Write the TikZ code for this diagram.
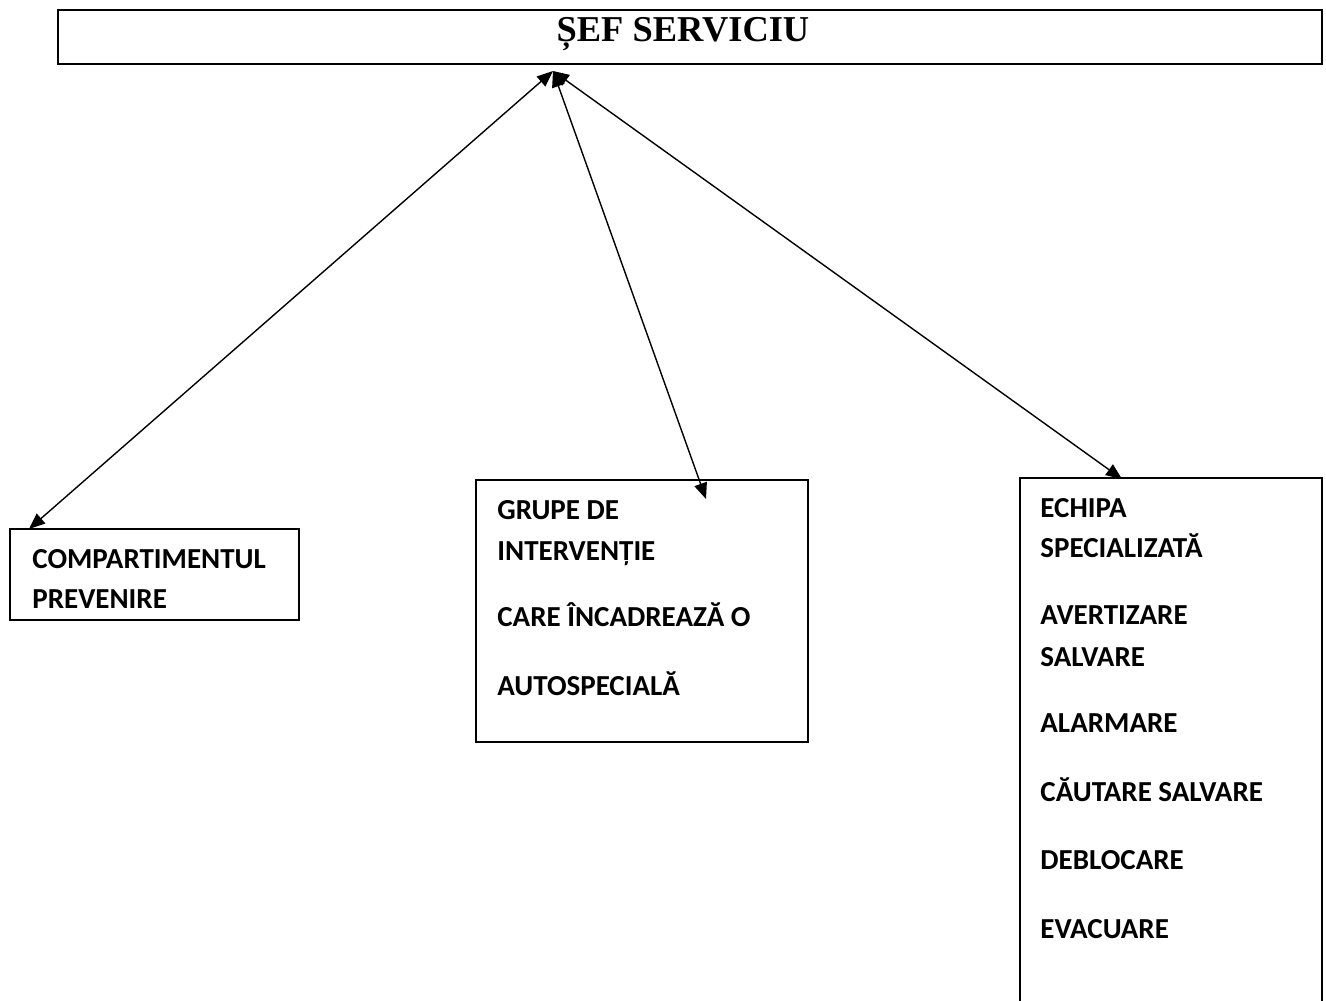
\documentclass[tikz,border=0pt]{standalone}
\usepackage{fontspec}
\setmainfont{Liberation Serif}
\newfontfamily\bodyfont{Carlito}
\usetikzlibrary{arrows.meta,fit}
\begin{document}
\begin{tikzpicture}[x=0.5pt,y=-0.5pt,
  box/.style={draw,line width=0.8pt,inner sep=0pt},
  lbl/.style={anchor=base west,inner sep=0pt,font=\bodyfont\bfseries\fontsize{14.5}{17}\selectfont},
  conn/.style={line width=0.7pt,{Triangle[length=8pt,width=6.5pt]}-{Triangle[length=8pt,width=6.5pt]}}]
\useasboundingbox (0,0) rectangle (1326,1000);
\clip (0,0) rectangle (1326,1000);
\fill[white] (0,0) rectangle (1326,1000);
% boxes
\node[box,fit={(58,10) (1322,64)}] (top) {};
\node[box,fit={(10,529) (299,620)}] (prev) {};
\node[box,fit={(476,480) (808,742)}] (grup) {};
\node[box,fit={(1020,478) (1322,1012)}] (echipa) {};
% title
\node[anchor=base,inner sep=0pt,font=\bfseries\fontsize{18.2}{20}\selectfont] (title) at (683,42) {ȘEF SERVICIU};
% left box text
\node[lbl] (p1) at (32,568) {COMPARTIMENTUL};
\node[lbl] (p2) at (32,608) {PREVENIRE};
% middle box text
\node[lbl] (g1) at (497,519) {GRUPE DE};
\node[lbl] (g2) at (497,560) {INTERVENȚIE};
\node[lbl] (g3) at (497,626) {CARE ÎNCADREAZĂ O};
\node[lbl] (g4) at (497,695) {AUTOSPECIALĂ};
% right box text
\node[lbl] (r1) at (1040,517) {ECHIPA};
\node[lbl] (r2) at (1040,557) {SPECIALIZATĂ};
\node[lbl] (r3) at (1040,624) {AVERTIZARE};
\node[lbl] (r4) at (1040,666) {SALVARE};
\node[lbl] (r5) at (1040,732) {ALARMARE};
\node[lbl] (r6) at (1040,801) {CĂUTARE SALVARE};
\node[lbl] (r7) at (1040,869) {DEBLOCARE};
\node[lbl] (r8) at (1040,938) {EVACUARE};
% connectors
\coordinate (hub) at (553,71);
\coordinate (e1) at (29,529);
\coordinate (e2) at (706,499);
\coordinate (e3) at (1122,479);
\draw[conn] (hub) -- (e1);
\draw[conn] (hub) -- (e2);
\draw[conn] (hub) -- (e3);
\end{tikzpicture}
\end{document}
